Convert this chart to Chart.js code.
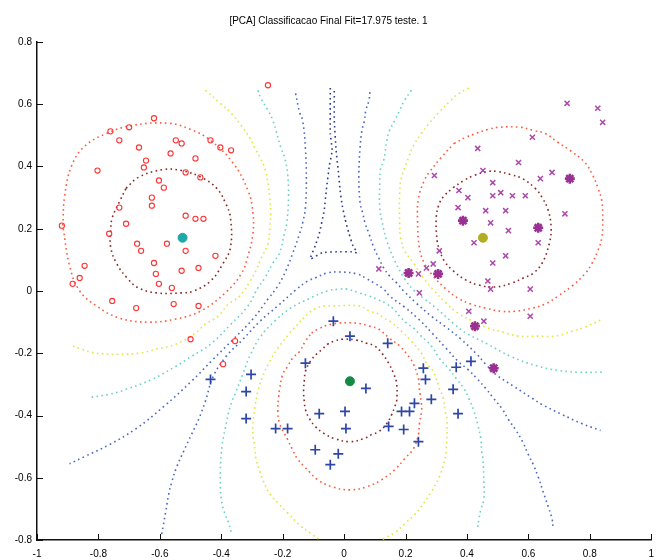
<!DOCTYPE html>
<html>
<head>
<meta charset="utf-8">
<title>[PCA] Classificacao Final</title>
<script src="https://cdn.jsdelivr.net/npm/chart.js@4.4.1/dist/chart.umd.min.js"></script>
<style>
    html, body { margin: 0; padding: 0; background: #fff; }
    #wrap { width: 662px; height: 560px; }
</style>
</head>
<body>
<div id="wrap"><canvas id="pcaChart" width="662" height="560"></canvas></div>
<script>
// Samples on the PCA plane as [x, y]
const redSamples = [
    [-0.619, 0.555], [-0.70, 0.526], [-0.732, 0.484], [-0.761, 0.513], [-0.548, 0.484],
    [-0.529, 0.474], [-0.565, 0.442], [-0.645, 0.419], [-0.668, 0.461], [-0.652, 0.397],
    [-0.603, 0.355], [-0.587, 0.332], [-0.626, 0.30], [-0.626, 0.274], [-0.516, 0.381],
    [-0.468, 0.365], [-0.484, 0.426], [-0.403, 0.461], [-0.368, 0.452], [-0.435, 0.484],
    [-0.803, 0.387], [-0.516, 0.242], [-0.484, 0.232], [-0.458, 0.232], [-0.732, 0.268],
    [-0.71, 0.216], [-0.765, 0.184], [-0.674, 0.152], [-0.661, 0.129], [-0.577, 0.152],
    [-0.516, 0.129], [-0.619, 0.09], [-0.613, 0.055], [-0.529, 0.065], [-0.474, 0.074],
    [-0.419, 0.113], [-0.861, 0.042], [-0.845, 0.081], [-0.561, 0.01], [-0.919, 0.21],
    [-0.755, -0.032], [-0.677, -0.055], [-0.555, -0.042], [-0.474, -0.048], [-0.50, -0.155],
    [-0.394, -0.235], [-0.355, -0.161], [-0.603, 0.023], [-0.884, 0.023], [-0.248, 0.661]
];

const purpleSamples = [
    [0.726, 0.603], [0.826, 0.587], [0.842, 0.542], [0.613, 0.494], [0.435, 0.458],
    [0.568, 0.413], [0.677, 0.381], [0.639, 0.361], [0.452, 0.387], [0.484, 0.348],
    [0.294, 0.371], [0.403, 0.30], [0.374, 0.323], [0.484, 0.306], [0.51, 0.316],
    [0.548, 0.306], [0.59, 0.306], [0.371, 0.268], [0.461, 0.258], [0.526, 0.258],
    [0.477, 0.219], [0.535, 0.194], [0.719, 0.248], [0.632, 0.155], [0.423, 0.155],
    [0.526, 0.113], [0.484, 0.09], [0.31, 0.129], [0.29, 0.087], [0.468, 0.032],
    [0.477, 0.006], [0.606, 0.006], [0.406, -0.065], [0.455, -0.097], [0.606, -0.081],
    [0.113, 0.071], [0.242, 0.055], [0.268, 0.074], [0.245, -0.006]
];

const purpleHighlighted = [
    [0.21, 0.058], [0.306, 0.055], [0.426, -0.113], [0.487, -0.248],
    [0.387, 0.226], [0.632, 0.203], [0.735, 0.361]
];

const blueSamples = [
    [0.019, -0.145], [0.142, -0.168], [0.258, -0.248], [0.365, -0.245], [0.355, -0.316],
    [0.371, -0.394], [0.229, -0.361], [0.187, -0.387], [0.213, -0.387], [0.071, -0.313],
    [0.003, -0.387], [-0.081, -0.394], [-0.319, -0.323], [-0.319, -0.41], [-0.223, -0.442],
    [-0.184, -0.442], [-0.094, -0.51], [-0.019, -0.523], [0.006, -0.442], [0.145, -0.435],
    [0.194, -0.445], [0.242, -0.484], [0.284, -0.348], [-0.045, -0.558], [-0.126, -0.232],
    [-0.035, -0.097], [-0.435, -0.284], [-0.303, -0.268], [0.413, -0.226], [0.265, -0.284]
];

// class centres
const centreRed = [[-0.526, 0.171]];
const centrePurple = [[0.452, 0.171]];
const centreBlue = [[0.019, -0.29]];

// contour lines
const darkRedRed = [
    [-0.71, 0.33], [-0.67, 0.365], [-0.59, 0.39], [-0.53, 0.387], [-0.465, 0.365], [-0.415, 0.33],
    [-0.385, 0.28], [-0.37, 0.235], [-0.37, 0.14], [-0.395, 0.087], [-0.435, 0.032], [-0.49, 0],
    [-0.53, -0.006], [-0.61, -0.006], [-0.67, 0.01], [-0.705, 0.04], [-0.74, 0.087], [-0.76, 0.14],
    [-0.76, 0.194], [-0.755, 0.235], [-0.73, 0.29], [-0.71, 0.33]
];
const tomatoRed = [
    [-0.916, 0.21], [-0.91, 0.306], [-0.887, 0.403], [-0.845, 0.465], [-0.774, 0.506], [-0.69, 0.532],
    [-0.571, 0.539], [-0.50, 0.519], [-0.435, 0.484], [-0.361, 0.41], [-0.313, 0.323], [-0.297, 0.252],
    [-0.297, 0.184], [-0.313, 0.113], [-0.335, 0.055], [-0.387, -0.006], [-0.468, -0.065], [-0.548, -0.09],
    [-0.635, -0.10], [-0.732, -0.087], [-0.806, -0.048], [-0.861, 0], [-0.894, 0.081], [-0.916, 0.21]
];
const yellowRed = [
    [-0.452, 0.645], [-0.403, 0.603], [-0.368, 0.571], [-0.335, 0.532], [-0.306, 0.49], [-0.29, 0.458],
    [-0.274, 0.429], [-0.258, 0.394], [-0.248, 0.345], [-0.242, 0.30], [-0.239, 0.252], [-0.242, 0.203],
    [-0.248, 0.152], [-0.271, 0.103], [-0.287, 0.065], [-0.306, 0.032], [-0.339, -0.016], [-0.377, -0.042],
    [-0.41, -0.081], [-0.452, -0.106], [-0.484, -0.135], [-0.548, -0.171], [-0.613, -0.187], [-0.668, -0.20],
    [-0.739, -0.203], [-0.806, -0.20], [-0.855, -0.187], [-0.894, -0.174]
];
const cyanRed = [
    [-0.281, 0.645], [-0.271, 0.619], [-0.248, 0.581], [-0.232, 0.548], [-0.206, 0.461], [-0.194, 0.429],
    [-0.184, 0.377], [-0.181, 0.30], [-0.187, 0.216], [-0.194, 0.187], [-0.21, 0.123], [-0.232, 0.09],
    [-0.258, 0.042], [-0.281, 0.01], [-0.313, -0.048], [-0.368, -0.106], [-0.435, -0.171], [-0.497, -0.21],
    [-0.548, -0.242], [-0.626, -0.284], [-0.71, -0.316], [-0.765, -0.332], [-0.829, -0.342]
];
const blueRed = [
    [-0.158, 0.635], [-0.145, 0.574], [-0.135, 0.548], [-0.126, 0.458], [-0.123, 0.355], [-0.126, 0.268],
    [-0.135, 0.219], [-0.145, 0.184], [-0.168, 0.119], [-0.19, 0.065], [-0.216, 0.016], [-0.248, -0.026],
    [-0.297, -0.09], [-0.361, -0.155], [-0.426, -0.219], [-0.497, -0.29], [-0.587, -0.371], [-0.677, -0.442],
    [-0.765, -0.494], [-0.845, -0.532], [-0.894, -0.555]
];
const navyCentre = [
    [-0.045, 0.652], [-0.045, 0.506], [-0.039, 0.452], [-0.048, 0.403], [-0.058, 0.323], [-0.065, 0.258],
    [-0.081, 0.184], [-0.094, 0.145], [-0.11, 0.103], [-0.071, 0.123], [-0.023, 0.126], [0.026, 0.126],
    [0.042, 0.123], [0.029, 0.145], [0.016, 0.184], [0.003, 0.232], [-0.006, 0.274], [-0.013, 0.323],
    [-0.019, 0.387], [-0.026, 0.452], [-0.032, 0.548], [-0.032, 0.652]
];
const darkRedPurple = [
    [0.355, 0.332], [0.39, 0.355], [0.423, 0.371], [0.468, 0.384], [0.50, 0.384], [0.542, 0.374],
    [0.581, 0.361], [0.623, 0.329], [0.645, 0.30], [0.665, 0.258], [0.674, 0.203], [0.668, 0.152],
    [0.645, 0.09], [0.613, 0.055], [0.584, 0.042], [0.548, 0.026], [0.494, 0.013], [0.439, 0.019],
    [0.397, 0.035], [0.355, 0.065], [0.326, 0.097], [0.31, 0.135], [0.303, 0.161], [0.30, 0.235],
    [0.31, 0.281], [0.326, 0.306], [0.355, 0.332]
];
const tomatoPurple = [
    [0.358, 0.474], [0.397, 0.494], [0.429, 0.506], [0.468, 0.519], [0.503, 0.526], [0.574, 0.526],
    [0.616, 0.516], [0.655, 0.506], [0.697, 0.477], [0.735, 0.452], [0.784, 0.413], [0.81, 0.371],
    [0.826, 0.332], [0.839, 0.29], [0.842, 0.226], [0.839, 0.171], [0.826, 0.129], [0.806, 0.087],
    [0.784, 0.055], [0.742, 0.016], [0.697, -0.016], [0.655, -0.042], [0.613, -0.055], [0.558, -0.065],
    [0.51, -0.065], [0.461, -0.055], [0.413, -0.042], [0.371, -0.023], [0.332, 0.006], [0.29, 0.048],
    [0.261, 0.09], [0.245, 0.139], [0.239, 0.232], [0.242, 0.297], [0.261, 0.355], [0.277, 0.381],
    [0.316, 0.429], [0.358, 0.474]
];
const yellowPurple = [
    [0.406, 0.652], [0.374, 0.635], [0.348, 0.613], [0.306, 0.571], [0.277, 0.539], [0.252, 0.506],
    [0.226, 0.468], [0.21, 0.429], [0.187, 0.365], [0.181, 0.313], [0.181, 0.216], [0.184, 0.171],
    [0.197, 0.129], [0.226, 0.09], [0.258, 0.042], [0.294, 0], [0.332, -0.039], [0.371, -0.071],
    [0.419, -0.097], [0.468, -0.119], [0.516, -0.132], [0.568, -0.145], [0.632, -0.145], [0.687, -0.145],
    [0.742, -0.129], [0.784, -0.116], [0.842, -0.09]
];
const cyanPurple = [
    [0.219, 0.645], [0.197, 0.613], [0.181, 0.581], [0.165, 0.548], [0.148, 0.516], [0.139, 0.484],
    [0.129, 0.419], [0.119, 0.394], [0.116, 0.345], [0.116, 0.268], [0.123, 0.226], [0.139, 0.161],
    [0.165, 0.097], [0.197, 0.039], [0.229, 0], [0.258, -0.023], [0.30, -0.055], [0.358, -0.106],
    [0.397, -0.135], [0.468, -0.171], [0.542, -0.21], [0.632, -0.242], [0.697, -0.255], [0.761, -0.261],
    [0.839, -0.261]
];
const bluePurple = [
    [0.084, 0.639], [0.081, 0.613], [0.071, 0.581], [0.065, 0.542], [0.058, 0.516], [0.052, 0.461],
    [0.048, 0.371], [0.052, 0.284], [0.061, 0.248], [0.068, 0.219], [0.081, 0.184], [0.097, 0.139],
    [0.113, 0.106], [0.129, 0.074], [0.148, 0.048], [0.171, 0.026], [0.194, 0], [0.235, -0.039],
    [0.284, -0.081], [0.332, -0.116], [0.381, -0.155], [0.429, -0.20], [0.461, -0.235], [0.494, -0.268],
    [0.552, -0.306], [0.613, -0.345], [0.645, -0.365], [0.71, -0.397], [0.774, -0.426], [0.835, -0.448]
];
const darkRedBlue = [
    [-0.055, -0.171], [-0.032, -0.161], [-0.006, -0.155], [0.042, -0.158], [0.074, -0.168], [0.10, -0.177],
    [0.123, -0.20], [0.145, -0.232], [0.161, -0.265], [0.171, -0.297], [0.171, -0.355], [0.165, -0.371],
    [0.155, -0.397], [0.139, -0.426], [0.113, -0.452], [0.09, -0.461], [0.065, -0.474], [0.019, -0.484],
    [-0.032, -0.474], [-0.065, -0.458], [-0.094, -0.435], [-0.113, -0.41], [-0.126, -0.381], [-0.129, -0.361],
    [-0.132, -0.323], [-0.129, -0.281], [-0.126, -0.258], [-0.11, -0.226], [-0.087, -0.20], [-0.071, -0.187],
    [-0.055, -0.171]
];
const tomatoBlue = [
    [-0.106, -0.135], [-0.087, -0.123], [-0.039, -0.106], [0.035, -0.103], [0.084, -0.113], [0.113, -0.123],
    [0.148, -0.152], [0.181, -0.177], [0.21, -0.21], [0.226, -0.235], [0.242, -0.281], [0.245, -0.313],
    [0.252, -0.365], [0.252, -0.387], [0.245, -0.429], [0.242, -0.461], [0.226, -0.506], [0.197, -0.539],
    [0.165, -0.574], [0.123, -0.606], [0.074, -0.629], [0.019, -0.639], [-0.039, -0.629], [-0.087, -0.606],
    [-0.113, -0.581], [-0.129, -0.565], [-0.152, -0.539], [-0.168, -0.51], [-0.184, -0.477], [-0.21, -0.426],
    [-0.216, -0.387], [-0.213, -0.339], [-0.21, -0.316], [-0.20, -0.268], [-0.184, -0.242], [-0.168, -0.216],
    [-0.145, -0.194], [-0.126, -0.161], [-0.106, -0.135]
];
const yellowBlue = [
    [-0.135, -0.09], [-0.119, -0.074], [-0.097, -0.058], [-0.065, -0.048], [-0.039, -0.048], [0.048, -0.048],
    [0.084, -0.065], [0.113, -0.074], [0.129, -0.087], [0.148, -0.097], [0.187, -0.129], [0.219, -0.161],
    [0.252, -0.20], [0.268, -0.232], [0.29, -0.258], [0.31, -0.313], [0.323, -0.345], [0.329, -0.387],
    [0.335, -0.413], [0.332, -0.516], [0.326, -0.548], [0.31, -0.597], [0.284, -0.645], [0.248, -0.697],
    [0.229, -0.719], [0.20, -0.745], [0.168, -0.774], [0.132, -0.794], [0.10, -0.81], [0.026, -0.832],
    [-0.052, -0.81], [-0.077, -0.80], [-0.106, -0.781], [-0.145, -0.752], [-0.187, -0.71], [-0.213, -0.684],
    [-0.242, -0.652], [-0.265, -0.606], [-0.274, -0.581], [-0.287, -0.539], [-0.29, -0.51], [-0.297, -0.461],
    [-0.297, -0.429], [-0.29, -0.371], [-0.281, -0.323], [-0.265, -0.274], [-0.242, -0.226], [-0.216, -0.184],
    [-0.177, -0.135], [-0.135, -0.09]
];
const cyanBlue = [
    [-0.368, -0.774], [-0.377, -0.742], [-0.387, -0.719], [-0.40, -0.668], [-0.403, -0.581], [-0.397, -0.494],
    [-0.387, -0.442], [-0.371, -0.371], [-0.352, -0.323], [-0.329, -0.265], [-0.303, -0.20], [-0.271, -0.145],
    [-0.226, -0.097], [-0.174, -0.055], [-0.11, -0.023], [-0.055, 0], [-0.013, 0.006], [0.01, 0.006],
    [0.048, -0.006], [0.081, -0.016], [0.106, -0.026], [0.139, -0.042], [0.161, -0.058], [0.181, -0.081],
    [0.203, -0.103], [0.226, -0.119], [0.245, -0.139], [0.284, -0.177], [0.31, -0.216], [0.339, -0.248],
    [0.365, -0.281], [0.39, -0.313], [0.406, -0.345], [0.423, -0.387], [0.435, -0.429], [0.445, -0.474],
    [0.448, -0.516], [0.452, -0.539], [0.455, -0.613], [0.455, -0.668], [0.445, -0.703], [0.439, -0.732],
    [0.435, -0.758]
];
const blueBlue = [
    [-0.594, -0.781], [-0.581, -0.71], [-0.571, -0.652], [-0.561, -0.613], [-0.545, -0.565], [-0.523, -0.516],
    [-0.497, -0.461], [-0.474, -0.413], [-0.452, -0.355], [-0.426, -0.274], [-0.384, -0.21], [-0.329, -0.155],
    [-0.274, -0.097], [-0.216, -0.048], [-0.158, 0.003], [-0.119, 0.032], [-0.094, 0.042], [-0.055, 0.058],
    [-0.013, 0.061], [0.042, 0.055], [0.074, 0.039], [0.097, 0.026], [0.129, 0.006], [0.148, -0.016],
    [0.197, -0.052], [0.242, -0.09], [0.29, -0.139], [0.332, -0.184], [0.371, -0.226], [0.403, -0.252],
    [0.435, -0.284], [0.461, -0.313], [0.487, -0.345], [0.516, -0.381], [0.535, -0.413], [0.558, -0.445],
    [0.581, -0.484], [0.60, -0.526], [0.616, -0.558], [0.632, -0.597], [0.648, -0.645], [0.665, -0.694],
    [0.677, -0.732], [0.681, -0.765]
];

const titleText = '[PCA] Classificacao Final Fit=17.975 teste. 1';

const levelColors = {
    darkRed: '#8a2626',
    tomato: '#ff5a3a',
    yellow: '#e4e444',
    cyan: '#68d2c6',
    blue: '#4a68c6',
    navy: '#2e3a8e'
};

function toXY(pairs) {
    return pairs.map(p => ({ x: p[0], y: p[1] }));
}

function markerSet(pairs, style) {
    return Object.assign({
        data: toXY(pairs),
        showLine: false,
        backgroundColor: 'rgba(0,0,0,0)'
    }, style);
}

function contourSet(pairs, color, tension) {
    return {
        data: toXY(pairs),
        showLine: true,
        borderColor: color,
        borderWidth: 1.6,
        borderDash: [1.6, 3.4],
        pointRadius: 0,
        tension: tension === undefined ? 0.4 : tension,
        fill: false
    };
}

// small inward tick marks, like the original figure
const innerTicks = {
    id: 'innerTicks',
    afterDraw(chart) {
        const { ctx, chartArea, scales } = chart;
        ctx.save();
        ctx.strokeStyle = '#111';
        ctx.lineWidth = 1;
        scales.x.ticks.forEach(t => {
            const px = Math.round(scales.x.getPixelForValue(t.value)) + 0.5;
            ctx.beginPath();
            ctx.moveTo(px, chartArea.bottom);
            ctx.lineTo(px, chartArea.bottom - 6);
            ctx.stroke();
        });
        scales.y.ticks.forEach(t => {
            const py = Math.round(scales.y.getPixelForValue(t.value)) + 0.5;
            ctx.beginPath();
            ctx.moveTo(chartArea.left, py);
            ctx.lineTo(chartArea.left + 6, py);
            ctx.stroke();
        });
        ctx.restore();
    }
};

const datasets = [
    markerSet(centreRed, { pointStyle: 'circle', pointRadius: 4.5, backgroundColor: '#1fa8a8', borderColor: '#1fa8a8', borderWidth: 1 }),
    markerSet(centrePurple, { pointStyle: 'circle', pointRadius: 4.5, backgroundColor: '#b2ae22', borderColor: '#b2ae22', borderWidth: 1 }),
    markerSet(centreBlue, { pointStyle: 'circle', pointRadius: 4.5, backgroundColor: '#128a44', borderColor: '#128a44', borderWidth: 1 }),
    markerSet(purpleHighlighted, { pointStyle: 'star', pointRadius: 5, borderColor: '#9a3092', borderWidth: 2.6 }),
    markerSet(blueSamples, { pointStyle: 'cross', pointRadius: 5, borderColor: '#2c46a6', borderWidth: 1.7 }),
    markerSet(purpleSamples, { pointStyle: 'crossRot', pointRadius: 3.6, borderColor: '#ac48aa', borderWidth: 1.5 }),
    markerSet(redSamples, { pointStyle: 'circle', pointRadius: 2.6, borderColor: '#ff3434', borderWidth: 1.1 }),

    contourSet(darkRedRed, levelColors.darkRed),
    contourSet(darkRedPurple, levelColors.darkRed),
    contourSet(darkRedBlue, levelColors.darkRed),
    contourSet(tomatoRed, levelColors.tomato),
    contourSet(tomatoPurple, levelColors.tomato),
    contourSet(tomatoBlue, levelColors.tomato),
    contourSet(yellowRed, levelColors.yellow),
    contourSet(yellowPurple, levelColors.yellow),
    contourSet(yellowBlue, levelColors.yellow),
    contourSet(cyanRed, levelColors.cyan),
    contourSet(cyanPurple, levelColors.cyan),
    contourSet(cyanBlue, levelColors.cyan),
    contourSet(blueRed, levelColors.blue),
    contourSet(bluePurple, levelColors.blue),
    contourSet(blueBlue, levelColors.blue),
    contourSet(navyCentre, levelColors.navy, 0.15)
];

const tickFont = { family: '"Liberation Sans", Arial, sans-serif', size: 10 };

function tickLabel(value) {
    return String(Number(value.toFixed(1)));
}

new Chart(document.getElementById('pcaChart'), {
    type: 'scatter',
    data: { datasets },
    plugins: [innerTicks],
    options: {
        responsive: false,
        animation: false,
        events: [],
        layout: { padding: { left: 0, right: 5, top: 0, bottom: 0 } },
        plugins: {
            legend: { display: false },
            tooltip: { enabled: false },
            title: {
                display: true,
                text: titleText,
                color: '#000',
                font: { family: '"Liberation Sans", Arial, sans-serif', size: 10, weight: 'normal' },
                padding: { top: 15, bottom: 15 }
            }
        },
        scales: {
            x: {
                type: 'linear',
                min: -1,
                max: 1,
                ticks: { stepSize: 0.2, color: '#000', font: tickFont, padding: 8, maxRotation: 0, callback: tickLabel },
                grid: { display: true, drawOnChartArea: false, drawTicks: false },
                border: { display: true, color: '#111', width: 1.5 },
                afterFit(scale) { scale.height = 20; }
            },
            y: {
                type: 'linear',
                min: -0.8,
                max: 0.8,
                ticks: { stepSize: 0.2, color: '#000', font: tickFont, padding: 5, callback: tickLabel },
                grid: { display: true, drawOnChartArea: false, drawTicks: false },
                border: { display: true, color: '#111', width: 1.5 },
                afterFit(scale) { scale.width = 37; }
            }
        }
    }
});
</script>
</body>
</html>
